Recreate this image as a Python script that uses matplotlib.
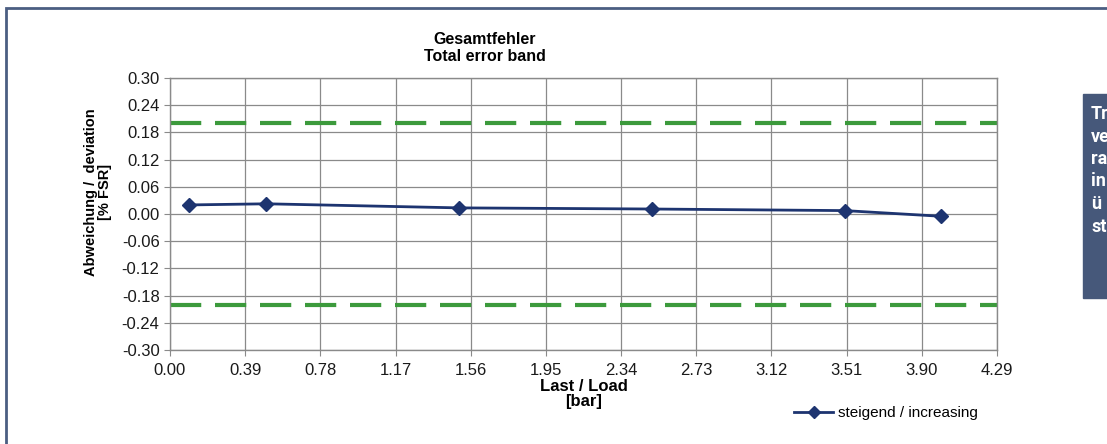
import matplotlib
matplotlib.use('Agg')
import matplotlib.pyplot as plt
from matplotlib.patches import Rectangle

# data
load_bar = [0.1, 0.5, 1.5, 2.5, 3.5, 4.0]
deviation = [0.020, 0.0225, 0.0135, 0.011, 0.0075, -0.005]
limit = 0.20
x_ticks = [round(0.39 * i, 2) for i in range(12)]
y_ticks = [round(-0.30 + 0.06 * i, 2) for i in range(11)]
box_lines = ["Tr", "ve", "ra", "in", "ü", "st"]

plt.rcParams['font.family'] = ['Liberation Sans', 'DejaVu Sans']
plt.rcParams['axes.unicode_minus'] = False

W, H = 1107, 444
fig = plt.figure(figsize=(W / 100, H / 100), dpi=100)

def fx(px):
    return px / W

def fy(py):
    return 1 - py / H

# outer frame of the screenshot
fig.patches.append(Rectangle((fx(6), fy(H + 5)), fx(W + 10 - 6), fy(8) - fy(H + 5),
                             transform=fig.transFigure, fill=False,
                             edgecolor='#4b5e82', linewidth=2))

ax = fig.add_axes([fx(170), fy(350), fx(997) - fx(170), fy(78) - fy(350)])
ax.set_xlim(0, 4.29)
ax.set_ylim(-0.30, 0.30)
ax.set_xticks(x_ticks)
ax.set_yticks(y_ticks)
ax.set_xticklabels([f'{v:.2f}' for v in x_ticks])
ax.set_yticklabels([f'{v:.2f}' for v in y_ticks])
ax.grid(True, color='#8a8a8a', linewidth=0.9)
ax.set_axisbelow(True)
for s in ax.spines.values():
    s.set_color('#8a8a8a')
    s.set_linewidth(1.0)
ax.tick_params(axis='both', colors='#8a8a8a', labelcolor='#1a1a1a',
               labelsize=12, length=4, direction='out')
ax.tick_params(axis='x', pad=5)

dash = (0, (7.5, 3.3))
ax.axhline(limit, color='#3c9a3c', linewidth=3, linestyle=dash)
ax.axhline(-limit, color='#3c9a3c', linewidth=3, linestyle=dash)

ax.plot(load_bar, deviation, color='#1d3470', linewidth=2, marker='D',
        markersize=7.5, label='steigend / increasing')

ax.set_xlabel('Last / Load\n[bar]', fontsize=12, fontweight='bold', labelpad=1,
              linespacing=1.0)
ax.set_ylabel('Abweichung /  deviation\n[% FSR]', fontsize=10.5, fontweight='bold',
              linespacing=1.05)
ax.yaxis.set_label_coords(-0.07, 0.58)

fig.text(fx(485), fy(48), 'Gesamtfehler\nTotal error band', ha='center', va='center',
         fontsize=11.5, fontweight='bold', linespacing=1.2)

leg = ax.legend(loc='center left', bbox_to_anchor=(fx(786), fy(413)),
                bbox_transform=fig.transFigure, frameon=False, fontsize=11,
                handlelength=2.6, markerscale=0.75, borderpad=0, handletextpad=0.3)

# cropped info box at the right edge
fig.patches.append(Rectangle((fx(1083), fy(298)), fx(40), fy(94) - fy(298),
                             transform=fig.transFigure, color='#46587a', zorder=5))
for i, t in enumerate(box_lines):
    fig.text(fx(1091), fy(114 + 22.5 * i), t, color='white', fontsize=13,
             fontweight='bold', family=['Roboto', 'DejaVu Sans'],
             va='center', ha='left', zorder=6)

fig.savefig('out.png', dpi=100)
